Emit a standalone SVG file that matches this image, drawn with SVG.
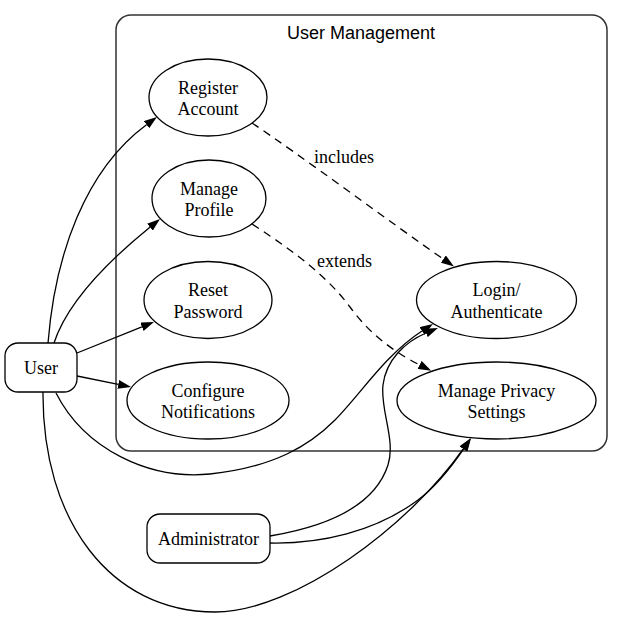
<svg xmlns="http://www.w3.org/2000/svg" width="623" height="618" viewBox="0 0 623 618">
<defs>
<style>
.cl{fill:none;stroke:#333;stroke-width:1.5}
.uc{fill:#fff;stroke:#000;stroke-width:1.3}
.ac{fill:#fff;stroke:#000;stroke-width:1.3}
.t{font-family:"Liberation Serif","Times New Roman",serif;font-size:18px;fill:#000;text-anchor:middle}
.tl{font-family:"Liberation Serif","Times New Roman",serif;font-size:18px;fill:#000}
.ct{font-family:"Liberation Sans",Arial,sans-serif;font-size:18px;fill:#000;text-anchor:middle}
.e{fill:none;stroke:#000;stroke-width:1.3;marker-end:url(#ah)}
.d{stroke-dasharray:8,6}
</style>
<marker id="ah" markerWidth="13" markerHeight="9" refX="0" refY="4.5" orient="auto" markerUnits="userSpaceOnUse">
<path d="M0,0 L13,4.5 L0,9 z" fill="#000"/>
</marker>
</defs>
<rect width="623" height="618" fill="#fff"/>
<g id="cluster_user_management">
<rect class="cl" x="116" y="15" width="491" height="436" rx="15" ry="15"/>
<text class="ct" x="361" y="39">User Management</text>
</g>
<g id="register_account">
<ellipse class="uc" cx="208" cy="97.5" rx="59" ry="38.5"/>
<text class="t" x="208" y="93.5">Register</text>
<text class="t" x="208" y="115">Account</text>
</g>
<g id="manage_profile">
<ellipse class="uc" cx="209" cy="198.5" rx="57" ry="38.5"/>
<text class="t" x="209" y="194.5">Manage</text>
<text class="t" x="209" y="216">Profile</text>
</g>
<g id="reset_password">
<ellipse class="uc" cx="208" cy="300" rx="64" ry="38.5"/>
<text class="t" x="208" y="296">Reset</text>
<text class="t" x="208" y="317.5">Password</text>
</g>
<g id="configure_notifications">
<ellipse class="uc" cx="208" cy="400.5" rx="81" ry="38.5"/>
<text class="t" x="208" y="396.5">Configure</text>
<text class="t" x="208" y="418">Notifications</text>
</g>
<g id="login_authenticate">
<ellipse class="uc" cx="496.5" cy="300" rx="80" ry="38.5"/>
<text class="t" x="496.5" y="296">Login/</text>
<text class="t" x="496.5" y="317.5">Authenticate</text>
</g>
<g id="manage_privacy_settings">
<ellipse class="uc" cx="496.5" cy="400.5" rx="99.5" ry="38.5"/>
<text class="t" x="496.5" y="396.5">Manage Privacy</text>
<text class="t" x="496.5" y="418">Settings</text>
</g>
<g id="user">
<rect class="ac" x="5" y="343" width="72" height="49" rx="13" ry="13"/>
<text class="t" x="41" y="374">User</text>
</g>
<g id="administrator">
<rect class="ac" x="147" y="514" width="123" height="49" rx="13" ry="13"/>
<text class="t" x="208.5" y="545">Administrator</text>
</g>
<g id="connectors">
<path class="e" d="M48,343 C55,255 85,170 146.5,124.7"/>
<path class="e" d="M54,343 C68,300 112,258 149.9,227.2"/>
<path class="e" d="M77,353 L141.9,326.8"/>
<path class="e" d="M77,376 L118.3,384.4"/>
<path class="e" d="M56,393 C85,450 150,480 210,474 C275,467 310,445 335,420 C360,395 385,355 422,331"/>
<path class="e" d="M43,392 C42,520 110,612 215,612 C295,612 410,525 463.2,448.9"/>
<path class="e" d="M270,536 C330,526 375,505 388,465 C396,440 380,410 383,385 C386,360 405,342 426,333"/>
<path class="e" d="M270,543 C320,544 375,532 418,500 C437,486 452,466 463.7,448.9"/>
<path class="e d" d="M252,123 C300,155 390,222 443.3,259.1"/>
<text class="tl" x="314" y="162.5">includes</text>
<path class="e d" d="M252,224 C300,255 330,280 350,307 C368,332 392,351 419.6,364.9"/>
<text class="tl" x="317" y="267">extends</text>
</g>
</svg>
